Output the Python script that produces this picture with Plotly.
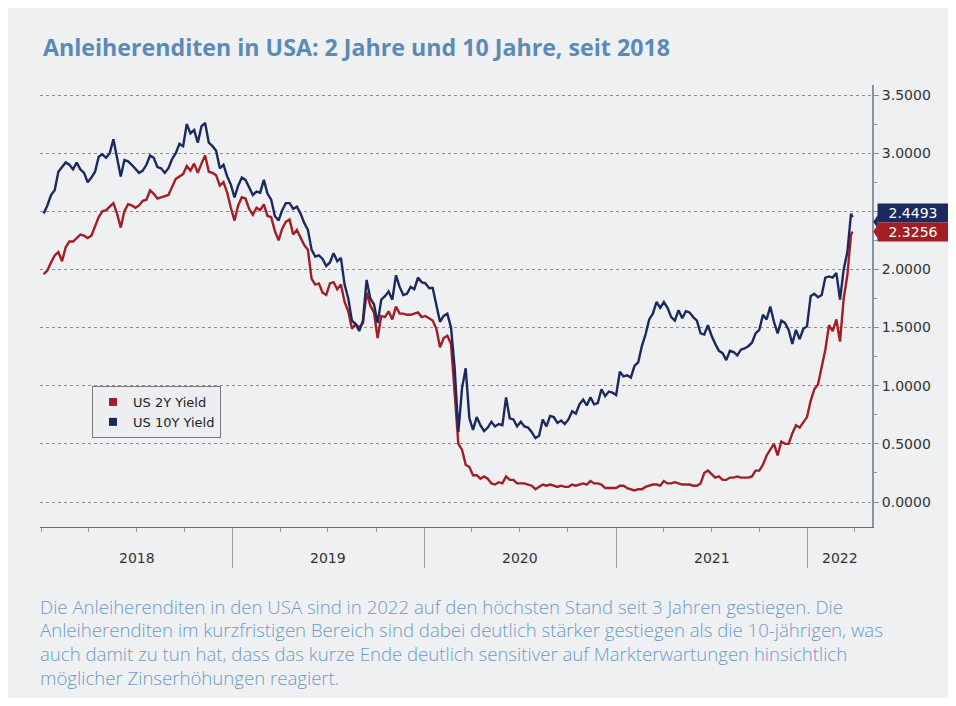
import pandas as pd
import plotly.graph_objects as go

# weekly (Friday) yields, one list per year
us10y_2018 = [2.48, 2.55, 2.64, 2.68, 2.84, 2.88, 2.92, 2.90, 2.86, 2.92, 2.86, 2.83, 2.75, 2.79, 2.84, 2.97, 2.99,
              2.96, 3.00, 3.12, 2.95, 2.80, 2.94, 2.93, 2.90, 2.86, 2.83, 2.85, 2.90, 2.98, 2.96, 2.88, 2.87, 2.83,
              2.87, 2.95, 3.00, 3.08, 3.06, 3.25, 3.17, 3.20, 3.09, 3.23, 3.26, 3.09, 3.06, 3.02, 2.87, 2.90, 2.80, 2.73]
us2y_2018 = [1.96, 1.99, 2.06, 2.12, 2.15, 2.07, 2.19, 2.24, 2.24, 2.27, 2.30, 2.29, 2.27, 2.29, 2.37, 2.45, 2.50,
             2.51, 2.54, 2.57, 2.48, 2.36, 2.50, 2.56, 2.55, 2.53, 2.55, 2.59, 2.60, 2.68, 2.65, 2.61, 2.62, 2.63,
             2.64, 2.71, 2.78, 2.80, 2.82, 2.89, 2.85, 2.91, 2.83, 2.91, 2.98, 2.84, 2.83, 2.81, 2.72, 2.75, 2.66, 2.53]

us10y_2019 = [2.62, 2.72, 2.79, 2.77, 2.70, 2.64, 2.67, 2.66, 2.77, 2.65, 2.60, 2.46, 2.42, 2.51, 2.57, 2.57, 2.52,
              2.54, 2.48, 2.40, 2.34, 2.17, 2.11, 2.12, 2.09, 2.03, 2.06, 2.14, 2.07, 2.10, 1.87, 1.75, 1.56, 1.53,
              1.47, 1.56, 1.91, 1.75, 1.70, 1.54, 1.74, 1.77, 1.81, 1.74, 1.95, 1.85, 1.78, 1.79, 1.85, 1.83, 1.93, 1.89]
us2y_2019 = [2.42, 2.55, 2.62, 2.61, 2.52, 2.47, 2.53, 2.51, 2.56, 2.46, 2.45, 2.33, 2.25, 2.35, 2.41, 2.43, 2.30,
             2.34, 2.27, 2.21, 2.17, 1.92, 1.87, 1.88, 1.80, 1.78, 1.88, 1.89, 1.83, 1.87, 1.72, 1.64, 1.49, 1.53,
             1.50, 1.54, 1.80, 1.69, 1.63, 1.41, 1.60, 1.59, 1.64, 1.57, 1.68, 1.62, 1.62, 1.61, 1.61, 1.62, 1.63, 1.59]

us10y_2020 = [1.88, 1.84, 1.84, 1.70, 1.55, 1.60, 1.62, 1.50, 1.15, 0.60, 0.98, 1.15, 0.72, 0.62, 0.73, 0.66, 0.61,
              0.64, 0.69, 0.65, 0.67, 0.66, 0.90, 0.72, 0.71, 0.65, 0.69, 0.65, 0.64, 0.60, 0.55, 0.57, 0.71, 0.65,
              0.74, 0.73, 0.68, 0.70, 0.67, 0.71, 0.78, 0.76, 0.84, 0.88, 0.83, 0.90, 0.84, 0.85, 0.97, 0.91, 0.95, 0.94]
us2y_2020 = [1.60, 1.58, 1.56, 1.49, 1.33, 1.41, 1.43, 1.36, 0.91, 0.50, 0.45, 0.32, 0.30, 0.23, 0.23, 0.20, 0.22,
             0.20, 0.16, 0.15, 0.17, 0.16, 0.22, 0.19, 0.19, 0.16, 0.16, 0.16, 0.15, 0.14, 0.11, 0.13, 0.15, 0.14,
             0.15, 0.14, 0.13, 0.14, 0.13, 0.13, 0.15, 0.14, 0.15, 0.16, 0.15, 0.18, 0.16, 0.16, 0.15, 0.12, 0.12, 0.12]

us10y_2021 = [0.92, 1.12, 1.08, 1.09, 1.07, 1.17, 1.20, 1.34, 1.44, 1.57, 1.62, 1.72, 1.67, 1.72, 1.67, 1.59, 1.56,
              1.65, 1.58, 1.64, 1.63, 1.59, 1.56, 1.45, 1.44, 1.52, 1.43, 1.36, 1.30, 1.28, 1.22, 1.30, 1.29, 1.26,
              1.31, 1.32, 1.34, 1.37, 1.45, 1.48, 1.61, 1.57, 1.68, 1.55, 1.45, 1.56, 1.54, 1.48, 1.36, 1.48, 1.40,
              1.49, 1.51]
us2y_2021 = [0.12, 0.14, 0.14, 0.12, 0.11, 0.10, 0.11, 0.11, 0.13, 0.14, 0.15, 0.15, 0.14, 0.18, 0.16, 0.16, 0.17,
             0.16, 0.15, 0.15, 0.15, 0.14, 0.14, 0.16, 0.25, 0.27, 0.24, 0.21, 0.22, 0.19, 0.19, 0.21, 0.21, 0.22,
             0.21, 0.21, 0.21, 0.22, 0.27, 0.27, 0.32, 0.40, 0.45, 0.50, 0.40, 0.52, 0.50, 0.50, 0.59, 0.66, 0.64,
             0.68, 0.73]

us10y_2022 = [1.77, 1.79, 1.76, 1.78, 1.93, 1.94, 1.93, 1.97, 1.74, 2.00, 2.15, 2.48]
us2y_2022 = [0.87, 0.97, 1.01, 1.17, 1.31, 1.52, 1.47, 1.57, 1.38, 1.75, 1.95, 2.30]

last_date = "2022-03-28"
last_10y = 2.4493
last_2y = 2.3256

years = ["2018", "2019", "2020", "2021", "2022"]
year_label_pos = ["2018-07-02", "2019-07-02", "2020-07-01", "2021-07-02", "2022-03-03"]
year_starts = ["2019-01-01", "2020-01-01", "2021-01-01", "2022-01-01"]

title = "Anleiherenditen in USA: 2 Jahre und 10 Jahre, seit 2018"
caption = [
    "Die Anleiherenditen in den USA sind in 2022 auf den höchsten Stand seit 3 Jahren gestiegen. Die",
    "Anleiherenditen im kurzfristigen Bereich sind dabei deutlich stärker gestiegen als die 10-jährigen, was",
    "auch damit zu tun hat, dass das kurze Ende deutlich sensitiver auf Markterwartungen hinsichtlich",
    "möglicher Zinserhöhungen reagiert.",
]

dates = list(pd.date_range("2018-01-05", "2022-03-25", freq="W-FRI")) + [pd.Timestamp(last_date)]
us10y = us10y_2018 + us10y_2019 + us10y_2020 + us10y_2021 + us10y_2022 + [last_10y]
us2y = us2y_2018 + us2y_2019 + us2y_2020 + us2y_2021 + us2y_2022 + [last_2y]

RED = "#a21d24"
NAVY = "#1b2a5e"
PANEL = "#eff0f2"
AXIS_FONT = dict(family="DejaVu Sans", size=14, color="#333333")

# plot area in figure pixels (page adds an 8px white border)
PL, PR, PT, PB = 32, 864, 77, 519
PW, PH = PR - PL, PB - PT


def px_x(x):
    return (x - PL) / PW


def px_y(y):
    return (PB - y) / PH


fig = go.Figure()

fig.add_trace(go.Scatter(x=dates, y=us2y, mode="lines", line=dict(color=RED, width=2.4), showlegend=False))
fig.add_trace(go.Scatter(x=dates, y=us10y, mode="lines", line=dict(color=NAVY, width=2.4), showlegend=False))

# legend entries with square swatches
fig.add_trace(go.Scatter(x=[None], y=[None], mode="markers", name="US 2Y Yield",
                         marker=dict(symbol="square", size=8, color=RED)))
fig.add_trace(go.Scatter(x=[None], y=[None], mode="markers", name="US 10Y Yield",
                         marker=dict(symbol="square", size=8, color=NAVY)))

# badges with last values
for val, col, shift in [(last_10y, NAVY, 4.5), (last_2y, RED, 0)]:
    fig.add_annotation(x=1, xref="paper", y=val, yref="y", xanchor="left", xshift=5, yshift=shift,
                       text=f"{val:.4f}", showarrow=False, bgcolor=col, borderpad=1, width=68,
                       align="center", font=dict(family="DejaVu Sans", size=14, color="white"))
    fig.add_shape(type="path", xref="paper", yref="y", ysizemode="pixel", yanchor=val,
                  path=f"M 1.0015,{-shift} L 1.007,{-shift - 7} L 1.007,{-shift + 7} Z",
                  fillcolor=col, line_width=0)

# year labels centred in each year
for lab, pos in zip(years, year_label_pos):
    fig.add_annotation(x=pos, xref="x", y=px_y(550), yref="paper", text=lab, showarrow=False,
                       yanchor="middle", font=AXIS_FONT)

# caption lines
for i, line in enumerate(caption):
    fig.add_annotation(x=px_x(30), xref="paper", y=px_y(598 + i * 23.7), yref="paper", text=line,
                       showarrow=False, xanchor="left", yanchor="middle",
                       font=dict(family="Open Sans", size=18.6, color="#6b9bc9", weight=300))

fig.update_xaxes(
    type="date", range=["2017-12-29", "2022-05-04"],
    showgrid=False, zeroline=False,
    showline=True, linecolor="#6e6e6e", linewidth=1,
    tickmode="array", tickvals=year_starts, showticklabels=False,
    ticks="outside", ticklen=40, tickcolor="#9a9a9a", tickwidth=1,
    minor=dict(ticks="outside", dtick="M3", tick0="2018-01-01", ticklen=4, tickcolor="#9a9a9a", showgrid=False),
)
fig.update_yaxes(
    side="right", range=[-0.215, 3.586],
    tick0=0, dtick=0.5, tickformat=".4f",
    showgrid=True, gridcolor="#8f8f8f", griddash="dot", gridwidth=1, zeroline=False,
    showline=True, linecolor="#8793a8", linewidth=2,
    ticks="outside", ticklen=5, tickcolor="#8793a8",
    minor=dict(ticks="outside", dtick=0.25, ticklen=3, tickcolor="#8793a8", showgrid=False),
    tickfont=AXIS_FONT,
)

fig.update_layout(
    width=940, height=690,
    margin=dict(l=PL, r=940 - PR, t=PT, b=690 - PB),
    paper_bgcolor=PANEL, plot_bgcolor=PANEL,
    title=dict(text=f"<b>{title}</b>", x=35 / 940, xanchor="left", y=1 - 40 / 690, yanchor="middle",
               font=dict(family="Open Sans", size=23.2, color="#5b8ab6")),
    legend=dict(x=px_x(84), y=px_y(378), xanchor="left", yanchor="top",
                bgcolor="#eceef1", bordercolor="#7a7a7a", borderwidth=1,
                font=dict(family="DejaVu Sans", size=13, color="#222222"),
                itemwidth=30, tracegroupgap=0),
)

fig.write_html("out.html")
